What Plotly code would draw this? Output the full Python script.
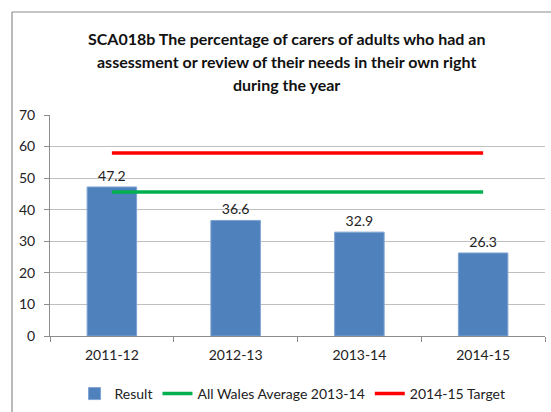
import plotly.graph_objects as go

categories = ["2011-12", "2012-13", "2013-14", "2014-15"]
result = [47.2, 36.6, 32.9, 26.3]
wales_avg = [45.6, 45.6, 45.6, 45.6]
target = [58.0, 58.0, 58.0, 58.0]
y_ticks = [0, 10, 20, 30, 40, 50, 60, 70]

title_lines = ["SCA018b The percentage of carers of adults who had an",
               "assessment or review of their needs in their own right",
               "during the year"]

FONT = "Lato"

fig = go.Figure()
fig.add_trace(go.Bar(
    x=categories, y=result, name="Result",
    marker=dict(color="#4F81BD", line=dict(color="#7FA3D3", width=1)),
    width=0.4,
    text=[f"{v:.1f}" for v in result], textposition="outside",
    textfont=dict(family=FONT, size=14, color="#222222"),
    cliponaxis=False,
))
fig.add_trace(go.Scatter(
    x=categories, y=wales_avg, name="All Wales Average 2013-14",
    mode="lines", line=dict(color="#00B050", width=3.5),
))
fig.add_trace(go.Scatter(
    x=categories, y=target, name="2014-15 Target",
    mode="lines", line=dict(color="#FF0000", width=3.5),
))

title_y = [1.348, 1.240, 1.136]
annotations = [
    dict(text="<b>" + line + "</b>", xref="paper", yref="paper",
         x=0.477, y=yy, xanchor="center", yanchor="middle", showarrow=False,
         font=dict(family=FONT, size=16, color="#111111"))
    for line, yy in zip(title_lines, title_y)
]

fig.update_layout(
    width=551, height=412,
    paper_bgcolor="white", plot_bgcolor="white",
    margin=dict(l=50, r=6, t=115, b=76, autoexpand=False),
    annotations=annotations,
    showlegend=True,
    legend=dict(orientation="h", x=0.49, xanchor="center", y=-0.19, yanchor="top",
                font=dict(family=FONT, size=14, color="#222222"),
                itemwidth=30, traceorder="normal"),
    bargap=0.6,
    shapes=[
        dict(type="line", xref="paper", yref="paper",
             x0=-0.0768, x1=-0.0768, y0=-0.4, y1=1.466,
             line=dict(color="#8c8c8c", width=1.2)),
        dict(type="line", xref="paper", yref="paper",
             x0=-0.0768, x1=1.05, y0=1.466, y1=1.466,
             line=dict(color="#8c8c8c", width=1.2)),
    ],
)
fig.update_xaxes(
    type="category", showline=True, linecolor="#8c8c8c", linewidth=1,
    ticks="outside", tickson="boundaries", ticklen=5, tickcolor="#8c8c8c",
    tickfont=dict(family=FONT, size=14, color="#222222"),
    showgrid=False, automargin=False, ticklabelstandoff=6,
)
fig.update_yaxes(
    range=[0, 70], tickvals=y_ticks,
    showline=True, linecolor="#8c8c8c", linewidth=1,
    ticks="outside", ticklen=5, tickcolor="#8c8c8c",
    showgrid=True, gridcolor="#BFBFBF", gridwidth=1,
    tickfont=dict(family=FONT, size=14, color="#222222"),
    zeroline=False, automargin=False, ticklabelstandoff=6,
)

fig.write_html("out.html", config={"displayModeBar": False},
               post_script="document.body.style.margin='0';document.body.style.padding='0';")
